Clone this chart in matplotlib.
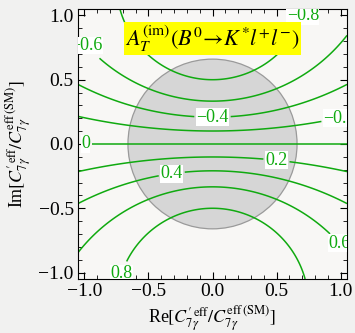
import matplotlib
matplotlib.use("Agg")
import matplotlib.pyplot as plt
import numpy as np
from matplotlib.patches import Circle
from matplotlib.ticker import MultipleLocator

plt.rcParams['font.family'] = ['Liberation Serif', 'DejaVu Serif']
plt.rcParams['mathtext.fontset'] = 'stix'

# contour levels of A_T^(im) and the label spots
levels = [-0.8, -0.6, -0.4, -0.2, 0.0, 0.2, 0.4, 0.6, 0.8]
label_spots = [(0.70, 1.0), (-0.99, 0.76), (0.0, 0.2), (0.99, 0.2), (-0.99, 0.0),
               (0.5, -0.12), (-0.32, -0.22), (0.98, -0.78), (-0.73, -1.0)]
disk_radius = 0.66
re_range = (-1.05, 1.05)
im_range = (-1.05, 1.05)

green = '#10aa10'

fig = plt.figure(figsize=(3.55, 3.33), dpi=100, facecolor='#f1f1f0')
ax = fig.add_axes([0.2197, 0.1622, 0.7578, 0.8108])
ax.set_facecolor('#f8f7f5')

# A_T^(im) = 2 Im(C7'*) / (1 + |C7'|^2) in units of C7(SM)
re = np.linspace(re_range[0], re_range[1], 400)
im = np.linspace(im_range[0], im_range[1], 400)
X, Y = np.meshgrid(re, im)
A = -2 * Y / (1 + X**2 + Y**2)

ax.add_patch(Circle((0, 0), disk_radius, facecolor='#d6d6d6', edgecolor='#9a9a9a',
                    lw=0.9, zorder=1))

cs = ax.contour(X, Y, A, levels=levels, colors=green, linewidths=1.1,
                linestyles='solid', zorder=2)
fmt = {lv: ('%g' % lv).replace('-', '\u2212') for lv in levels}
fmt[0.0] = '0'
labels = ax.clabel(cs, fmt=fmt, manual=label_spots, inline=True, fontsize=13,
                   inline_spacing=2)
for t in labels:
    t.set_color(green)
    t.set_bbox(dict(facecolor='white', edgecolor='none', pad=0.3))
    t.set_clip_on(True)
    t.set_rotation(0)

ax.text(0.0, 0.82, r'$A_T^{\rm (im)}(B^0\!\rightarrow\! K^{*}l^{+}l^{-})$', fontsize=16,
        ha='center', va='center', zorder=5,
        bbox=dict(facecolor='#ffff00', edgecolor='none', pad=1.0))

ax.set_xlim(*re_range)
ax.set_ylim(*im_range)
ax.xaxis.set_major_locator(MultipleLocator(0.5))
ax.yaxis.set_major_locator(MultipleLocator(0.5))
ax.xaxis.set_minor_locator(MultipleLocator(0.1))
ax.yaxis.set_minor_locator(MultipleLocator(0.1))
ax.tick_params(which='both', direction='in', top=True, right=True, labelsize=14,
               pad=3)
ax.tick_params(which='major', length=5)
ax.tick_params(which='minor', length=3)
ax.xaxis.set_major_formatter(plt.FuncFormatter(lambda v, p: ('%.1f' % v).replace('-', '\u2212')))
ax.yaxis.set_major_formatter(plt.FuncFormatter(lambda v, p: ('%.1f' % v).replace('-', '\u2212')))

ax.set_xlabel(r"Re$[C^{\prime\,\rm eff}_{7\gamma}/C^{\rm eff\,(SM)}_{7\gamma}]$", fontsize=13)
ax.set_ylabel(r"Im$[C^{\prime\,\rm eff}_{7\gamma}/C^{\rm eff\,(SM)}_{7\gamma}]$", fontsize=13)
ax.xaxis.set_label_coords(0.5, -0.09)
ax.yaxis.set_label_coords(-0.165, 0.5)

fig.savefig('out.png', dpi=100, facecolor=fig.get_facecolor())
